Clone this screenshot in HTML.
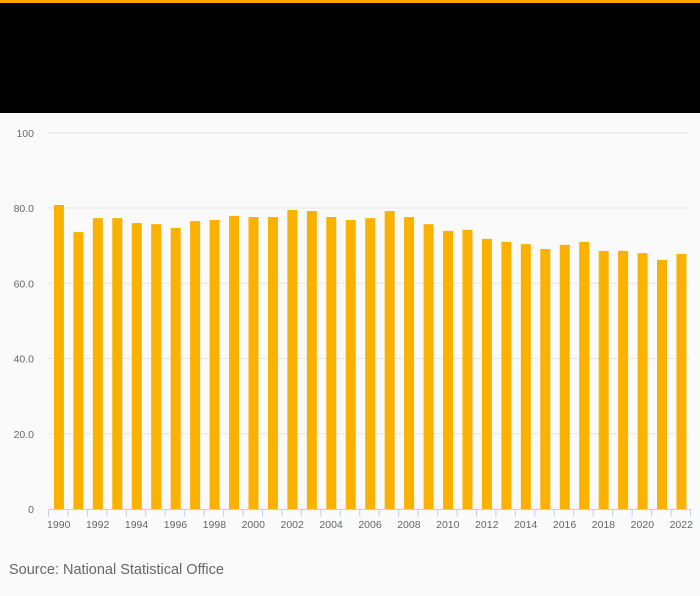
<!DOCTYPE html>
<html><head><meta charset="utf-8"><style>
body{margin:0;background:#fafafa;font-family:"Liberation Sans","DejaVu Sans",sans-serif;}
#wrap{position:relative;width:700px;height:596px;overflow:hidden;background:#fafafa}
</style></head><body>
<div id="wrap">
<div style="position:absolute;left:0;top:0;width:700px;height:3px;background:#f5a800"></div>
<div style="position:absolute;left:0;top:3px;width:700px;height:110px;background:#000"></div>
<svg id="chart" width="700" height="596" style="position:absolute;left:0;top:0"></svg>
<div style="position:absolute;left:9px;top:562px;font-size:14.5px;color:#666">Source: National Statistical Office</div>
</div>
<script>
const years=[1990,1991,1992,1993,1994,1995,1996,1997,1998,1999,2000,2001,2002,2003,2004,2005,2006,2007,2008,2009,2010,2011,2012,2013,2014,2015,2016,2017,2018,2019,2020,2021,2022];
const values=[80.8,73.6,77.3,77.3,76.0,75.7,74.7,76.5,76.8,77.9,77.6,77.6,79.5,79.2,77.6,76.8,77.3,79.2,77.6,75.7,73.9,74.2,71.8,71.0,70.4,69.1,70.2,71.0,68.6,68.6,68.0,66.2,67.8];
const yTicks=[0,20,40,60,80,100];
const yTickLabels=["0","20.0","40.0","60.0","80.0","100"];
const svg=document.getElementById('chart');
const NS='http://www.w3.org/2000/svg';
const x0=48,x1=690,yb=509,yt=132.75;
const band=(x1-x0)/years.length;
function xs(i){return x0+band*i;}
function ys(v){return yb-(yb-yt)*v/100;}
function mk(t,a){const e=document.createElementNS(NS,t);for(const k in a)e.setAttribute(k,a[k]);svg.appendChild(e);return e;}
yTicks.forEach((t,i)=>{
  if(t>0){const g=mk('line',{x1:x0,x2:x1,y1:ys(t),y2:ys(t),stroke:'#e6e6e6','stroke-width':1});
  
  }
  const l=mk('text',{x:34,y:ys(t)+4,'text-anchor':'end','font-size':10.5,fill:'#666','font-family':'Liberation Sans, DejaVu Sans, sans-serif'});
  l.textContent=yTickLabels[i];
  
  
});
years.forEach((y,i)=>{
  const bw=10;
  const r=mk('rect',{x:xs(i)+band/2-bw/2+1.2,y:ys(values[i]),width:bw,height:yb-ys(values[i]),fill:'#fbb100'});
  
  
});
const ax=mk('line',{x1:x0,x2:x1,y1:yb+0.5,y2:yb+0.5,stroke:'#c5d0e3','stroke-width':1});


for(let i=0;i<=years.length;i++){
  const t=mk('line',{x1:xs(i)+0.5,x2:xs(i)+0.5,y1:yb,y2:yb+8,stroke:'#c5d0e3','stroke-width':1});
  
  
}
years.forEach((y,i)=>{
  if(i%2)return;
  const l=mk('text',{x:xs(i)+band/2+1,y:528,'text-anchor':'middle','font-size':10.5,fill:'#666','font-family':'Liberation Sans, DejaVu Sans, sans-serif'});
  l.textContent=y;
  
  
});
</script>
</body></html>
